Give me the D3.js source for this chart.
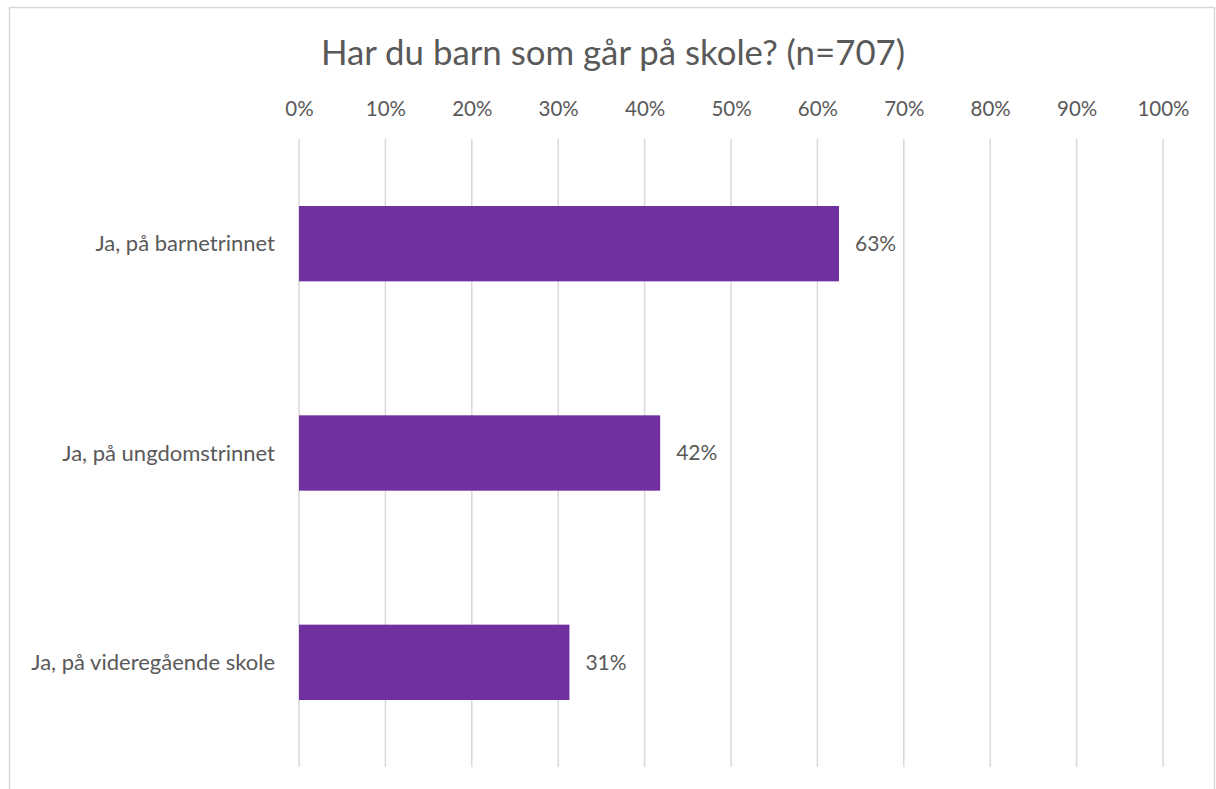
<!DOCTYPE html>
<html><head><meta charset="utf-8">
<script src="https://cdn.jsdelivr.net/npm/d3@7"></script>
<style>body{margin:0;background:#fff}svg{display:block}text{font-family:Lato,"Open Sans",sans-serif;fill:#595959}</style>
</head><body>
<svg id="c" width="1216" height="789"></svg>
<script>
const categories = ["Ja, på barnetrinnet", "Ja, på ungdomstrinnet", "Ja, på videregående skole"];
const values = [0.625, 0.418, 0.313];
const valueLabels = ["63%", "42%", "31%"];
const ticks = [0,0.1,0.2,0.3,0.4,0.5,0.6,0.7,0.8,0.9,1.0];
const title = "Har du barn som går på skole? (n=707)";

const svg = d3.select("#c");
svg.append("rect").attr("x",9.5).attr("y",7.5).attr("width",1205).attr("height",790)
  .attr("fill","#fff").attr("stroke","#d9d9d9").attr("stroke-width",1.5);

const x = d3.scaleLinear().domain([0,1]).range([299,1163]);
const y = d3.scaleBand().domain(categories).range([139,767]).paddingInner(0.64).paddingOuter(0.32);

svg.append("text").attr("x",613).attr("y",65).attr("text-anchor","middle")
  .style("font-size","34.8px").text(title);

const ax = svg.append("g").attr("transform","translate(0,139)")
  .call(d3.axisTop(x).tickValues(ticks).tickFormat(d3.format(".0%")).tickSize(0).tickPadding(23));
ax.select(".domain").remove();
ax.selectAll("text").style("font-size","20.5px").attr("fill","#595959").style("font-family","Lato,'Open Sans',sans-serif");

svg.append("g").selectAll("line").data(ticks).join("line")
  .attr("x1",d=>x(d)).attr("x2",d=>x(d)).attr("y1",139).attr("y2",767)
  .attr("stroke","#d9d9d9").attr("stroke-width",1.5);

svg.append("g").selectAll("rect").data(values).join("rect")
  .attr("x",x(0)).attr("y",(d,i)=>y(categories[i])).attr("width",d=>x(d)-x(0))
  .attr("height",y.bandwidth()).attr("fill","#7030A0");

svg.append("g").selectAll("text").data(values).join("text")
  .attr("x",d=>x(d)+16).attr("y",(d,i)=>y(categories[i])+y.bandwidth()/2).attr("dy","0.35em")
  .style("font-size","21px").attr("fill","#404040").text((d,i)=>valueLabels[i]);

svg.append("g").selectAll("text").data(categories).join("text")
  .attr("x",275).attr("y",d=>y(d)+y.bandwidth()/2).attr("dy","0.35em").attr("text-anchor","end")
  .style("font-size","22px").text(d=>d);
</script>
</body></html>
